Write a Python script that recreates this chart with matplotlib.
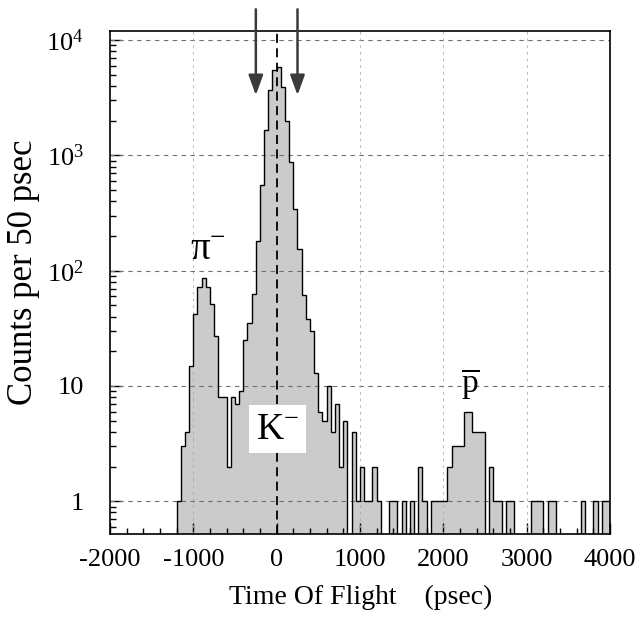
import numpy as np
import matplotlib
matplotlib.use("Agg")
import matplotlib.pyplot as plt
from matplotlib.ticker import MultipleLocator, LogLocator, NullFormatter

# ========================
# Data (counts per 50 psec bin)
# ========================
BIN_START = -1200
BIN_WIDTH = 50
COUNTS = [
    1, 3, 4, 15, 42, 72, 87, 72, 51, 27,            # -1200 .. -750 (pi-)
    8, 8, 2, 8, 7, 9, 25, 35, 63, 180,              # -700 .. -250
    550, 1650, 3700, 5500, 5900, 3900, 2000, 880, 345, 155,   # -200 .. 250 (K-)
    61, 38, 30, 13, 6, 5, 10, 4, 7, 2,              # 300 .. 750
    5, 0, 4, 1, 2, 1, 1, 2, 1, 0,                   # 800 .. 1250
    0, 1, 1, 0, 1, 0, 1, 0, 2, 1,                   # 1300 .. 1750
    0, 1, 1, 1, 1, 2, 3, 3, 3, 6,                   # 1800 .. 2250 (pbar)
    6, 4, 4, 4, 0, 2, 1, 1, 0, 1,                   # 2300 .. 2750
    1, 0, 0, 0, 0, 1, 1, 1, 0, 1,                   # 2800 .. 3250
    1, 0, 0, 0, 0, 0, 0, 1, 0, 0,                   # 3300 .. 3750
    1, 0, 1, 1,                                     # 3800 .. 3950
]

XTICKS = [-2000, -1000, 0, 1000, 2000, 3000, 4000]
XTICK_LABELS = ["-2000", "-1000", "0", "1000", "2000", "3000", "4000"]
YTICKS = [1, 10, 100, 1000, 10000]
YTICK_LABELS = ["1", "10", r"$10^{2}$", r"$10^{3}$", r"$10^{4}$"]
ARROW_X = [-250, 250]
CUT_X = 0

FILL = "#cbcbcb"

plt.rcParams['font.family'] = ['Liberation Serif', 'DejaVu Serif']
plt.rcParams['mathtext.fontset'] = 'custom'
plt.rcParams['mathtext.rm'] = 'Liberation Serif'
plt.rcParams['mathtext.it'] = 'Liberation Serif:italic'

W, H = 637, 617
fig = plt.figure(figsize=(W / 100, H / 100), dpi=100)
ax = fig.add_axes([110 / W, 1 - 534 / H, 500 / W, 503 / H])

# ========================
# Histogram
# ========================
counts = np.array(COUNTS, dtype=float)
edges = BIN_START + BIN_WIDTH * np.arange(len(counts) + 1)
floor = 0.05
shown = np.where(counts > 0, counts, floor)
ax.stairs(shown, edges, baseline=floor, fill=True, color=FILL, zorder=1)
ax.stairs(shown, edges, baseline=floor, color="black", lw=1.0, zorder=4)

ax.set_yscale("log")
ax.set_xlim(-2000, 4000)
ax.set_ylim(0.52, 1.2e4)

# grid
for y in YTICKS:
    ax.axhline(y, color="#707070", lw=0.8, ls=(0, (4, 4)), zorder=2)
for x in XTICKS[1:-1]:
    if x != CUT_X:
        ax.axvline(x, color="#a8a8a8", lw=0.6, ls=(0, (3, 5)), zorder=2)

ax.axvline(CUT_X, color="black", lw=1.3, ls=(0, (5, 3)), zorder=3)

# ticks
ax.set_xticks(XTICKS)
ax.set_xticklabels(XTICK_LABELS)
ax.xaxis.set_minor_locator(MultipleLocator(200))
ax.set_yticks(YTICKS)
ax.set_yticklabels(YTICK_LABELS)
ax.yaxis.set_minor_locator(LogLocator(base=10, subs=np.arange(2, 10)))
ax.yaxis.set_minor_formatter(NullFormatter())
ax.tick_params(which="both", direction="in", top=False, right=False,
               labelsize=19, width=1.0)
ax.tick_params(which="major", length=8)
ax.tick_params(which="minor", length=4)
ax.tick_params(axis="x", pad=11)
ax.tick_params(axis="y", pad=19)
for s in ax.spines.values():
    s.set_linewidth(1.2)

# ========================
# Annotations
# ========================
ax.text(-830, 150, r"$\mathrm{π}^{-}$", fontsize=28, ha="center", va="center", zorder=5)
ax.text(10, 4.2, r"$\mathrm{K}^{-}$", fontsize=27, ha="center", va="center", zorder=5,
        bbox=dict(boxstyle="square,pad=0.18", fc="white", ec="none"))
ax.text(2330, 10.5, r"$\overline{\mathrm{p}}$", fontsize=24, ha="center", va="center", zorder=5)

for x in ARROW_X:
    ax.annotate("", xy=(x, 3330), xytext=(x, 18500), annotation_clip=False,
                arrowprops=dict(arrowstyle="-|>,head_length=0.55,head_width=0.2",
                                color="#3a3a3a", lw=1.8, mutation_scale=22,
                                shrinkA=0, shrinkB=0))

fig.text(24 / W, 1 - 272 / H, "Counts per 50 psec", rotation=90,
         fontsize=25, ha="center", va="center")
fig.text(361 / W, 1 - 597 / H, "Time Of Flight    (psec)",
         fontsize=20, ha="center", va="center")

fig.savefig("out.png", dpi=100)
